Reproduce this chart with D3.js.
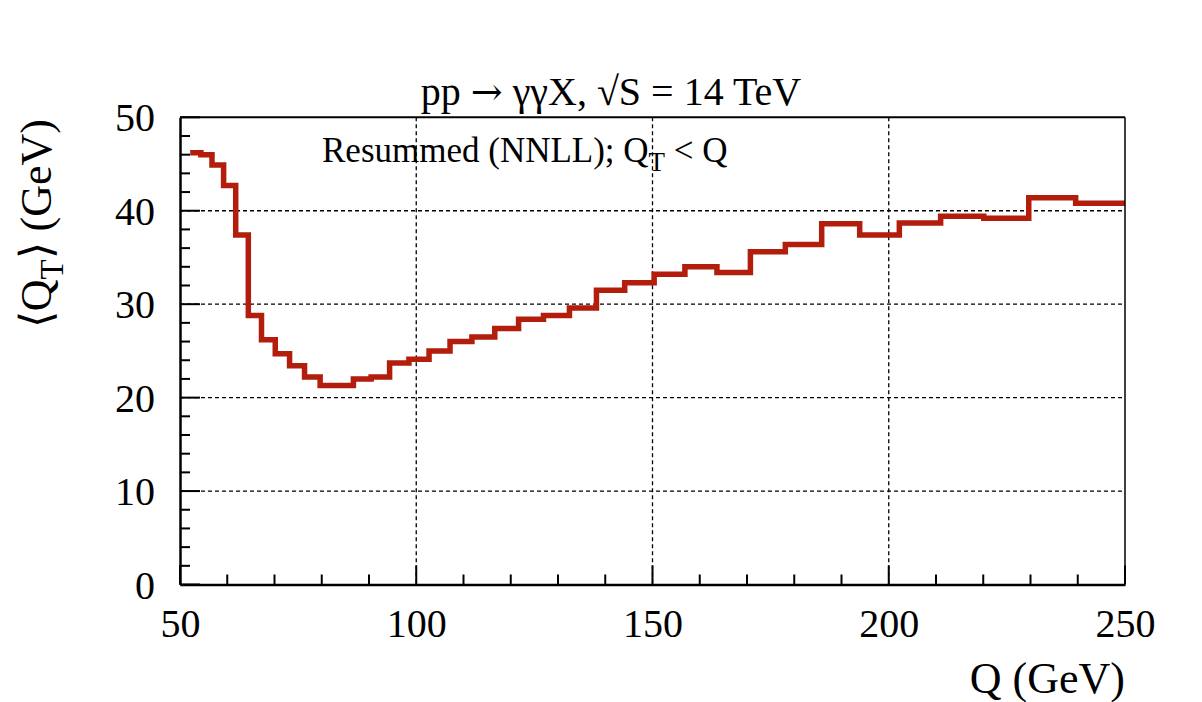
<!DOCTYPE html>
<html>
<head>
<meta charset="utf-8">
<script src="https://cdn.jsdelivr.net/npm/d3@7"></script>
<style>
  html, body { margin: 0; padding: 0; background: #fff; }
  svg { display: block; }
  text { font-family: "Liberation Serif", "Times New Roman", serif; fill: #000; }
</style>
</head>
<body>
<svg id="chart" width="1202" height="702"></svg>
<script>
// Bin edges in Q (GeV)
const binEdges = [52.16, 54.42, 56.77, 59.23, 61.79, 64.46, 67.25, 70.16, 73.19, 76.36,
  79.66, 83.11, 86.70, 90.45, 94.36, 98.45, 102.71, 107.15, 111.78, 116.62,
  121.66, 126.93, 132.42, 138.14, 144.12, 150.35, 156.86, 163.64, 170.72, 178.11,
  185.81, 193.85, 202.24, 210.98, 220.11, 229.63, 239.56, 250.0];
// <Q_T> (GeV) per bin
const meanQT = [46.2, 46.0, 44.9, 42.7, 37.4, 28.8, 26.2, 24.7, 23.4, 22.2,
  21.3, 21.3, 22.0, 22.2, 23.7, 24.1, 25.0, 26.0, 26.5, 27.4,
  28.4, 28.8, 29.6, 31.5, 32.3, 33.2, 34.0, 33.4, 35.6, 36.4,
  38.6, 37.4, 38.7, 39.4, 39.2, 41.4, 40.8];
const xTickLabels = [50, 100, 150, 200, 250];
const yTickLabels = [0, 10, 20, 30, 40, 50];
const xMinorTicks = [60, 70, 80, 90, 110, 120, 130, 140, 160, 170, 180, 190, 210, 220, 230, 240];
const yMinorTicks = [2, 4, 6, 8, 12, 14, 16, 18, 22, 24, 26, 28, 32, 34, 36, 38, 42, 44, 46, 48];
const xGrid = [100, 150, 200];
const yGrid = [10, 20, 30, 40];

const svg = d3.select("#chart");
const L = 180, R = 1125, T = 117.3, B = 584.5;
const x = d3.scaleLinear().domain([50, 250]).range([L, R]);
const y = d3.scaleLinear().domain([0, 50]).range([B, T]);

// grid
svg.append("g").selectAll("line").data(xGrid).join("line")
  .attr("x1", d => x(d)).attr("x2", d => x(d)).attr("y1", T).attr("y2", B)
  .attr("stroke", "#000").attr("stroke-width", 1.3).attr("stroke-dasharray", "4,3");
svg.append("g").selectAll("line").data(yGrid).join("line")
  .attr("x1", L).attr("x2", R).attr("y1", d => y(d)).attr("y2", d => y(d))
  .attr("stroke", "#000").attr("stroke-width", 1.3).attr("stroke-dasharray", "4,3");

// histogram step line
const pts = meanQT.map((v, i) => [binEdges[i], v]);
pts.push([binEdges[binEdges.length - 1], meanQT[meanQT.length - 1]]);
const line = d3.line().x(d => x(d[0])).y(d => y(d[1])).curve(d3.curveStepAfter);
svg.append("path").attr("d", line(pts))
  .attr("fill", "none").attr("stroke", "#b31d0c").attr("stroke-width", 5.5)
  .attr("stroke-linejoin", "miter");

// frame
svg.append("line").attr("x1", L).attr("x2", R).attr("y1", T).attr("y2", T).attr("stroke", "#000").attr("stroke-width", 2);
svg.append("line").attr("x1", R).attr("x2", R).attr("y1", T).attr("y2", B).attr("stroke", "#000").attr("stroke-width", 1.5);

// axes
const xAxis = d3.axisBottom(x).tickValues(xTickLabels).tickSize(0).tickFormat(d3.format("d"));
const gx = svg.append("g").attr("transform", `translate(0,${B})`).call(xAxis);
gx.select(".domain").attr("stroke-width", 2.5);
gx.selectAll("text").attr("font-size", 40).attr("dy", null).attr("y", 52)
  .style("font-family", "'Liberation Serif', serif");
svg.append("g").selectAll("line").data(xMinorTicks).join("line")
  .attr("x1", d => x(d)).attr("x2", d => x(d)).attr("y1", B).attr("y2", B - 10)
  .attr("stroke", "#000").attr("stroke-width", 2);
svg.append("g").selectAll("line").data(xTickLabels).join("line")
  .attr("x1", d => x(d)).attr("x2", d => x(d)).attr("y1", B).attr("y2", B - 19)
  .attr("stroke", "#000").attr("stroke-width", 2);

const yAxis = d3.axisLeft(y).tickValues(yTickLabels).tickSize(0).tickFormat(d3.format("d"));
const gy = svg.append("g").attr("transform", `translate(${L},0)`).call(yAxis);
gy.select(".domain").attr("stroke-width", 2.5);
gy.selectAll("text").attr("font-size", 40).attr("x", -25).attr("dy", "0.34em")
  .style("font-family", "'Liberation Serif', serif");
svg.append("g").selectAll("line").data(yMinorTicks).join("line")
  .attr("x1", L).attr("x2", L + 10).attr("y1", d => y(d)).attr("y2", d => y(d))
  .attr("stroke", "#000").attr("stroke-width", 2);
svg.append("g").selectAll("line").data(yTickLabels).join("line")
  .attr("x1", L).attr("x2", L + 20).attr("y1", d => y(d)).attr("y2", d => y(d))
  .attr("stroke", "#000").attr("stroke-width", 2);

// title
const title = svg.append("text").attr("x", 611).attr("y", 105).attr("text-anchor", "middle")
  .attr("font-size", 40);
title.append("tspan").text("pp ");
title.append("tspan").style("font-family", "'DejaVu Serif', serif").attr("font-size", 38).text("\u2192");
title.append("tspan").text(" \u03b3\u03b3X, \u221aS = 14 TeV");

// legend text
const leg = svg.append("text").attr("x", 322).attr("y", 162).attr("font-size", 35);
leg.append("tspan").text("Resummed (NNLL); Q");
leg.append("tspan").attr("font-size", 27).attr("dy", 9).text("T");
leg.append("tspan").attr("dy", -9).text(" < Q");

// axis titles
svg.append("text").attr("x", 1125).attr("y", 693).attr("text-anchor", "end")
  .attr("font-size", 44).text("Q (GeV)");

const yl = svg.append("text").attr("transform", "translate(51,119) rotate(-90)")
  .attr("text-anchor", "end").attr("font-size", 44);
yl.append("tspan").text("\u27e8Q");
yl.append("tspan").attr("font-size", 33).attr("dy", 12).text("T");
yl.append("tspan").attr("dy", -12).text("\u27e9 (GeV)");
</script>
</body>
</html>
